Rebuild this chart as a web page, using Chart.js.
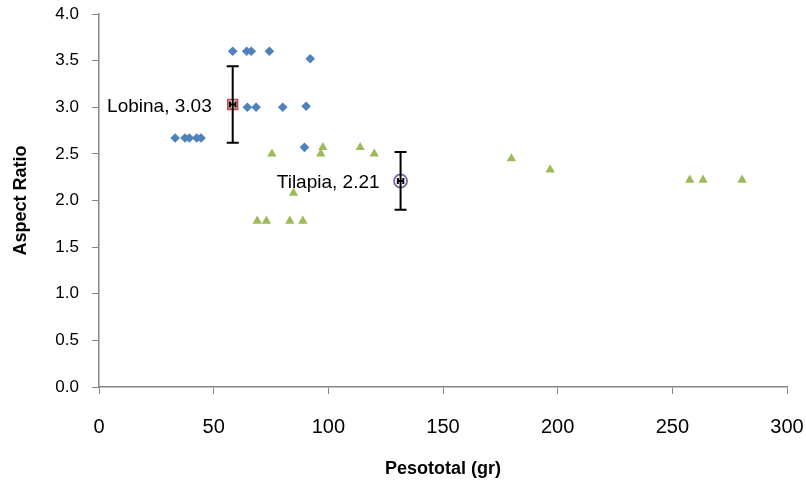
<!DOCTYPE html>
<html>
<head>
<meta charset="utf-8">
<script src="https://cdn.jsdelivr.net/npm/chart.js@4.4.1/dist/chart.umd.min.js"></script>
<style>
  html, body { margin: 0; padding: 0; background: #fff; }
  #wrap { width: 806px; height: 486px; position: relative; }
</style>
</head>
<body>
<div id="wrap"><canvas id="c"></canvas></div>
<script>
// Lobina (blue diamonds)
const lobinaX = [58.3, 64.4, 66.4, 74.3, 92.1, 64.7, 68.5, 80.1, 90.3, 33.2, 37.5, 39.4, 42.6, 44.5, 89.6];
const lobinaY = [3.6, 3.6, 3.6, 3.6, 3.52, 3.0, 3.0, 3.0, 3.01, 2.67, 2.67, 2.67, 2.67, 2.67, 2.57];
// Tilapia (green triangles)
const tilapiaX = [69.0, 73.0, 83.2, 88.9, 75.4, 96.7, 120.0, 97.6, 113.9, 84.8, 179.8, 196.7, 257.6, 263.4, 280.4];
const tilapiaY = [1.78, 1.78, 1.78, 1.78, 2.5, 2.5, 2.5, 2.57, 2.57, 2.08, 2.45, 2.33, 2.22, 2.22, 2.22];
// Means with error bars
const meanNames = ['Lobina', 'Tilapia'];
const meanX = [58.3, 131.5];
const meanY = [3.03, 2.21];
const meanErrY = [0.41, 0.31];
const meanErrX = [1.2, 1.2];
// Axes
const xTitle = 'Pesototal (gr)';
const yTitle = 'Aspect Ratio';
const xMin = 0, xMax = 300, xStep = 50;
const yMin = 0, yMax = 4, yStep = 0.5;

const FONT = '"Liberation Sans", Arial, sans-serif';
const AXIS = '#868686';

function pts(xs, ys) { return xs.map((x, i) => ({ x: x, y: ys[i] })); }

const errorBars = {
  id: 'errorBars',
  afterDatasetsDraw(chart) {
    const xs = chart.scales.x, ys = chart.scales.y, ctx = chart.ctx;
    ctx.save();
    ctx.strokeStyle = '#000';
    ctx.lineWidth = 2;
    for (let i = 0; i < meanX.length; i++) {
      const px = xs.getPixelForValue(meanX[i]);
      const py = ys.getPixelForValue(meanY[i]);
      const yt = ys.getPixelForValue(meanY[i] + meanErrY[i]);
      const yb = ys.getPixelForValue(meanY[i] - meanErrY[i]);
      const xl = xs.getPixelForValue(meanX[i] - meanErrX[i]);
      const xr = xs.getPixelForValue(meanX[i] + meanErrX[i]);
      const cap = 6;
      ctx.beginPath();
      ctx.moveTo(px, yt); ctx.lineTo(px, yb);
      ctx.moveTo(px - cap, yt); ctx.lineTo(px + cap, yt);
      ctx.moveTo(px - cap, yb); ctx.lineTo(px + cap, yb);
      ctx.moveTo(xl, py); ctx.lineTo(xr, py);
      ctx.moveTo(xl, py - 3); ctx.lineTo(xl, py + 3);
      ctx.moveTo(xr, py - 3); ctx.lineTo(xr, py + 3);
      ctx.stroke();
      // label
      ctx.fillStyle = '#000';
      ctx.font = '19px ' + FONT;
      ctx.textAlign = 'right';
      ctx.textBaseline = 'middle';
      ctx.fillText(meanNames[i] + ', ' + meanY[i].toFixed(2), px - 21, py + 2);
    }
    ctx.restore();
  }
};

new Chart(document.getElementById('c'), {
  type: 'scatter',
  data: {
    datasets: [
      { label: 'Lobina', data: pts(lobinaX, lobinaY), pointStyle: 'rectRot', pointRadius: 4.8,
        backgroundColor: '#4F81BD', borderColor: '#4F81BD', borderWidth: 0 },
      { label: 'Tilapia', data: pts(tilapiaX, tilapiaY), pointStyle: 'triangle', pointRadius: 5.4,
        backgroundColor: '#9BBB59', borderColor: '#9BBB59', borderWidth: 0 },
      { label: 'Lobina media', data: [{ x: meanX[0], y: meanY[0] }], pointStyle: 'rect', pointRadius: 6.8,
        backgroundColor: '#ffffff', borderColor: '#C0504D', borderWidth: 1.8 },
      { label: 'Tilapia media', data: [{ x: meanX[1], y: meanY[1] }], pointStyle: 'circle', pointRadius: 6.5,
        backgroundColor: 'rgba(255,255,255,0.6)', borderColor: '#8064A2', borderWidth: 1.8 }
    ]
  },
  options: {
    responsive: true,
    maintainAspectRatio: false,
    animation: false,
    events: [],
    layout: { padding: { top: 14, right: 19, left: 0, bottom: 0 } },
    plugins: { legend: { display: false }, tooltip: { enabled: false } },
    scales: {
      x: {
        type: 'linear', position: 'bottom', min: xMin, max: xMax,
        grid: { display: true, drawOnChartArea: false, drawTicks: true, tickLength: 7, color: AXIS, lineWidth: 1 },
        border: { display: true, color: AXIS, width: 1.5 },
        ticks: { stepSize: xStep, color: '#000', font: { family: FONT, size: 20 }, padding: 21, maxRotation: 0 },
        title: { display: true, text: xTitle, color: '#000', font: { family: FONT, size: 18, weight: 'bold' }, padding: { top: 0, bottom: 6 } },
        afterFit(s) { s.height = 99; s.paddingLeft = 0; s.paddingRight = 0; }
      },
      y: {
        type: 'linear', position: 'left', min: yMin, max: yMax,
        grid: { display: true, drawOnChartArea: false, drawTicks: true, tickLength: 7, color: AXIS, lineWidth: 1 },
        border: { display: true, color: AXIS, width: 1.5 },
        ticks: { stepSize: yStep, color: '#000', font: { family: FONT, size: 17 }, padding: 13,
          callback: v => Number(v).toFixed(1) },
        title: { display: true, text: yTitle, color: '#000', font: { family: FONT, size: 18, weight: 'bold' }, padding: { top: 10, bottom: 0 } },
        afterFit(s) { s.width = 99; s.paddingTop = 0; s.paddingBottom = 0; }
      }
    }
  },
  plugins: [errorBars]
});
</script>
</body>
</html>
